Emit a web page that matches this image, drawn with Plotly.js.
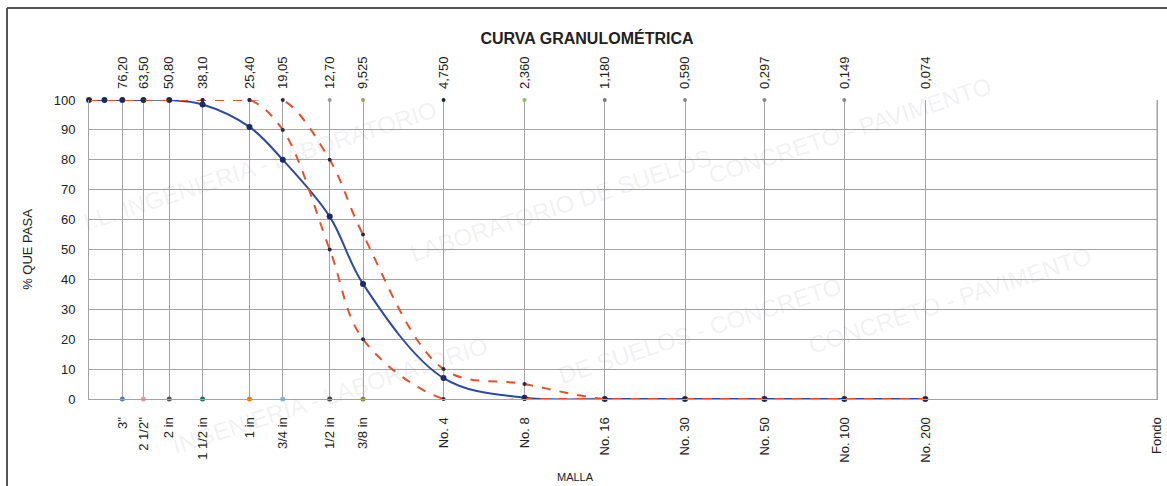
<!DOCTYPE html>
<html>
<head>
<meta charset="utf-8">
<script src="https://cdn.plot.ly/plotly-3.0.1.min.js"></script>
<style>html,body{margin:0;padding:0;background:#fff;}#chart{width:1167px;height:486px;}</style>
</head>
<body>
<div id="chart"></div>
<script>
// ---- data ----
const sizes = [101.6, 88.9, 76.2, 63.5, 50.8, 38.1, 25.4, 19.05, 12.7, 9.525, 4.75, 2.36, 1.18, 0.59, 0.297, 0.149, 0.074];
const muestra = [100, 100, 100, 100, 100, 98.5, 91, 80, 61, 38.5, 7, 0.4, 0, 0, 0, 0, 0];
const limiteInferior = [100, 100, 100, 100, 100, 100, 100, 90, 50, 20, 0, 0, 0, 0, 0, 0, 0];
const limiteSuperior = [100, 100, 100, 100, 100, 100, 100, 100, 80, 55, 10, 5, 0, 0, 0, 0, 0];

const sieveSizes = [76.2, 63.5, 50.8, 38.1, 25.4, 19.05, 12.7, 9.525, 4.75, 2.36, 1.18, 0.59, 0.297, 0.149, 0.074, 0.01];
const sieveNames = ['3"', '2 1/2"', '2 in', '1 1/2 in', '1 in', '3/4 in', '1/2 in', '3/8 in', 'No. 4', 'No. 8', 'No. 16', 'No. 30', 'No. 50', 'No. 100', 'No. 200', 'Fondo'];
const openingSizes = [76.2, 63.5, 50.8, 38.1, 25.4, 19.05, 12.7, 9.525, 4.75, 2.36, 1.18, 0.59, 0.297, 0.149, 0.074];
const openingLabels = ['76,20', '63,50', '50,80', '38,10', '25,40', '19,05', '12,70', '9,525', '4,750', '2,360', '1,180', '0,590', '0,297', '0,149', '0,074'];

// guide ends of the sieve verticals
const guideBottomSizes = [76.2, 63.5, 50.8, 38.1, 25.4, 19.05, 12.7, 9.525];
const guideBottomValues = [0, 0, 0, 0, 0, 0, 0, 0];
const guideTopSizes = [12.7, 9.525, 4.75, 2.36, 1.18, 0.59, 0.297, 0.149];
const guideTopValues = [100, 100, 100, 100, 100, 100, 100, 100];

// watermark pieces
const watermarkTexts = ['I.L. INGENIERIA - LABORATORIO', 'LABORATORIO DE SUELOS', 'CONCRETO - PAVIMENTO',
                        'DE SUELOS - CONCRETO', 'INGENIERIA - LABORATORIO', 'CONCRETO - PAVIMENTO'];

// ---- styles ----
const guideBottomColors = ['#5a7fa8', '#e89a9a', '#555555', '#1f6f6f', '#e07a20', '#8ab4d8', '#444444', '#8a8a40'];
const guideTopColors = ['#999999', '#a0a060', '#222244', '#8cbf6a', '#777777', '#888888', '#888888', '#888888'];
const watermarkPx = [[260, 165], [560, 205], [850, 130], [700, 330], [330, 395], [950, 300]];
const FONT = 'Liberation Sans, Arial, sans-serif';
const xRange = [Math.log10(101.6), -2];

const traces = [
  {x: guideBottomSizes, y: guideBottomValues, type: 'scatter', mode: 'markers',
   marker: {size: 5, color: guideBottomColors}, hoverinfo: 'skip', showlegend: false, cliponaxis: false},
  {x: guideTopSizes, y: guideTopValues, type: 'scatter', mode: 'markers',
   marker: {size: 4, color: guideTopColors}, hoverinfo: 'skip', showlegend: false, cliponaxis: false},
  {x: sizes, y: muestra, type: 'scatter', mode: 'lines+markers', name: 'Muestra',
   line: {color: '#2e4a9c', width: 2, shape: 'spline', smoothing: 1},
   marker: {size: 6, color: '#1c2a66'}, cliponaxis: false},
  {x: sizes, y: limiteInferior, type: 'scatter', mode: 'lines+markers', name: 'Límite inferior',
   line: {color: '#e2512e', width: 2, dash: 'dash', shape: 'spline', smoothing: 1},
   marker: {size: 4, color: '#2a2a3a'}, cliponaxis: false},
  {x: sizes, y: limiteSuperior, type: 'scatter', mode: 'lines+markers', name: 'Límite superior',
   line: {color: '#e2512e', width: 2, dash: 'dash', shape: 'spline', smoothing: 1},
   marker: {size: 4, color: '#2a2a3a'}, cliponaxis: false},
  {x: [openingSizes[0]], y: [null], xaxis: 'x2', yaxis: 'y', type: 'scatter', mode: 'markers',
   showlegend: false, hoverinfo: 'skip'}
];

const annotations = watermarkTexts.map((t, i) => ({
  text: t, xref: 'paper', yref: 'paper',
  x: (watermarkPx[i][0] - 89) / 1068, y: (399 - watermarkPx[i][1]) / 299, showarrow: false,
  xanchor: 'center', yanchor: 'middle',
  textangle: -18, font: {family: FONT, size: 24, color: 'rgba(150,135,155,0.12)'}
}));
annotations.push({
  text: 'MALLA', xref: 'paper', yref: 'paper', x: (575 - 89) / 1068, y: (399 - 477) / 299,
  showarrow: false, xanchor: 'center', yanchor: 'middle',
  font: {family: FONT, size: 11, color: '#222'}
});

const layout = {
  width: 1167, height: 486,
  margin: {l: 89, r: 10, t: 100, b: 87},
  paper_bgcolor: '#ffffff', plot_bgcolor: '#ffffff',
  showlegend: false,
  font: {family: FONT, size: 13, color: '#222'},
  title: {text: '<b>CURVA GRANULOMÉTRICA</b>', x: 0.503, xref: 'container', y: 1 - 38 / 486,
          yref: 'container', yanchor: 'middle', font: {family: FONT, size: 16, color: '#222'}},
  xaxis: {type: 'log', range: xRange, tickmode: 'array', tickvals: sieveSizes, ticktext: sieveNames,
          tickangle: -90, ticks: '', ticklabelstandoff: 12, showgrid: true, gridcolor: '#a3a3a3', gridwidth: 1,
          showline: true, linecolor: '#a3a3a3', mirror: false, zeroline: false,
          tickfont: {family: FONT, size: 13, color: '#222'}},
  xaxis2: {type: 'log', range: xRange, overlaying: 'x', side: 'top', anchor: 'y',
           tickmode: 'array', tickvals: openingSizes, ticktext: openingLabels, tickangle: -90, ticks: '',
           ticklabelstandoff: 10, showgrid: false, showline: false, zeroline: false,
           tickfont: {family: FONT, size: 13, color: '#222'}},
  yaxis: {range: [0, 100], dtick: 10, showgrid: true, gridcolor: '#a3a3a3', gridwidth: 1,
          showline: true, linecolor: '#a3a3a3', mirror: true, zeroline: false, ticks: '',
          ticklabelstandoff: 10, tickfont: {family: FONT, size: 13, color: '#222'},
          title: {text: '% QUE PASA', standoff: 18, font: {family: FONT, size: 13, color: '#222'}}},
  annotations: annotations,
  shapes: [
    {type: 'line', xref: 'paper', yref: 'paper', x0: (7 - 89) / 1068, x1: 1.02, y0: (399 - 8) / 299, y1: (399 - 8) / 299,
     line: {color: '#555', width: 2}},
    {type: 'line', xref: 'paper', yref: 'paper', x0: (7 - 89) / 1068, x1: (7 - 89) / 1068, y0: (399 - 8) / 299, y1: -0.4,
     line: {color: '#555', width: 2}},
    {type: 'line', xref: 'paper', yref: 'paper', x0: 1, x1: 1, y0: 0, y1: 1, line: {color: '#a3a3a3', width: 1}}
  ]
};

Plotly.newPlot('chart', traces, layout, {staticPlot: true, displayModeBar: false});
</script>
</body>
</html>
